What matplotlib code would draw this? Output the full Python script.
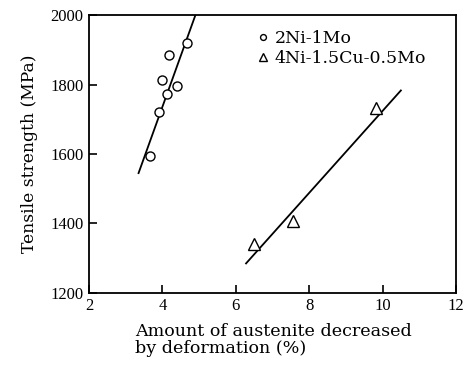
import matplotlib
matplotlib.use('Agg')
import matplotlib.pyplot as plt

# 2Ni-1Mo
ni2_x = [4.67, 4.17, 3.99, 4.41, 4.13, 3.90, 3.65]
ni2_y = [1920, 1884, 1814, 1797, 1774, 1720, 1595]
ni2_line_x = [3.35, 4.90]
ni2_line_y = [1545, 2000]

# 4Ni-1.5Cu-0.5Mo
ni4_x = [6.51, 7.56, 9.83]
ni4_y = [1340, 1408, 1732]
ni4_line_x = [6.28, 10.50]
ni4_line_y = [1285, 1783]

x_ticks = [2, 4, 6, 8, 10, 12]
y_ticks = [1200, 1400, 1600, 1800, 2000]

plt.rcParams['font.family'] = ['Liberation Serif', 'DejaVu Serif']
wide = ['DejaVu Serif']

fig = plt.figure(figsize=(4.71, 3.68), dpi=100)
ax = fig.add_axes([0.189, 0.204, 0.779, 0.755])

ax.plot(ni2_line_x, ni2_line_y, color='black', lw=1.3)
ax.plot(ni4_line_x, ni4_line_y, color='black', lw=1.3)
ax.plot(ni2_x, ni2_y, 'o', ms=6.5, mfc='white', mec='black', mew=1.0,
        label='2Ni-1Mo', zorder=3)
ax.plot(ni4_x, ni4_y, '^', ms=8, mfc='white', mec='black', mew=1.0,
        label='4Ni-1.5Cu-0.5Mo', zorder=3)

ax.set_xlim(2, 12)
ax.set_ylim(1200, 2000)
ax.set_xticks(x_ticks)
ax.set_yticks(y_ticks)
ax.tick_params(direction='in', length=6, width=1.2, labelsize=12,
               top=False, right=False, pad=4)
for s in ax.spines.values():
    s.set_linewidth(1.3)

ax.set_ylabel('Tensile strength (MPa)', fontsize=12.3, family=wide,
              labelpad=9)
ax.set_xlabel('Amount of austenite decreased\nby deformation (%)',
              fontsize=12.6, family=wide, ha='left', x=0.125,
              linespacing=1.0, labelpad=6)

ax.legend(loc='upper left', bbox_to_anchor=(0.42, 0.985), frameon=False,
          prop={'family': wide, 'size': 12.5}, handletextpad=0.1,
          borderaxespad=0.2, labelspacing=0.2, handlelength=1.1,
          markerscale=0.65)

fig.savefig('out.png', dpi=100)
